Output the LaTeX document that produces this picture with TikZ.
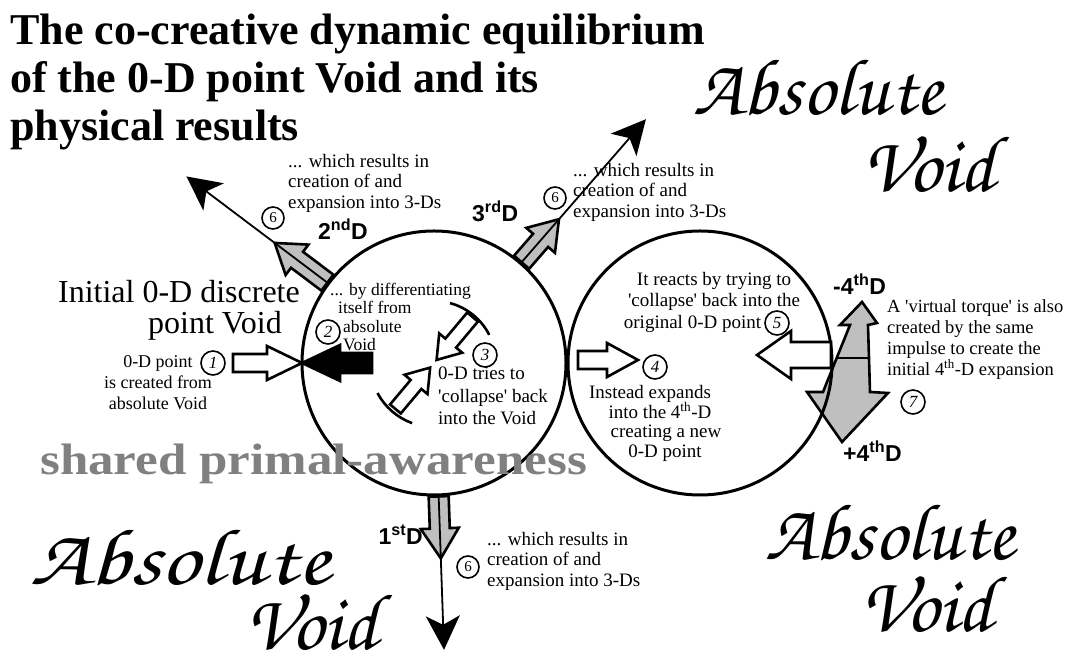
\documentclass[tikz,border=0pt]{standalone}
\usepackage{fontspec}
\usepackage{graphicx}
\setmainfont{Liberation Serif}
\newfontfamily\labelfont{Liberation Sans}
\newfontfamily\voidfont{TeX Gyre Chorus}
\usetikzlibrary{arrows.meta,calc,positioning}

% block arrow: [style]{start}{angle}{shaft half}{head half}{length}{head length}
\newcommand{\blockarrow}[7][hollow]{%
  \draw[#1,shift={#2},rotate=#3] (0,-#4) -- ({#6-#7},-#4) -- ({#6-#7},-#5) -- (#6,0)
    -- ({#6-#7},#5) -- ({#6-#7},#4) -- (0,#4) -- cycle;}

\tikzset{
  ring/.style={circle,draw,line width=3pt,minimum size=264pt,inner sep=0pt},
  numcirc/.style={circle,draw,line width=1.6pt,minimum size=24pt,inner sep=0pt,font=\fontsize{17}{17}\selectfont\itshape},
  sixcirc/.style={numcirc,minimum size=22pt,font=\fontsize{15}{15}\selectfont},
  note/.style={inner sep=0pt,font=\fontsize{19}{20.5}\selectfont},
  titletext/.style={inner sep=0pt,align=left,font=\bfseries\fontsize{44}{48}\selectfont},
  dimlabel/.style={inner sep=0pt,anchor=base west,font=\labelfont\bfseries\fontsize{23}{23}\selectfont},
  voidword/.style={inner sep=0pt,anchor=base west,font=\voidfont\fontsize{80}{80}\selectfont},
  hollow/.style={draw,line width=2.6pt,fill=white,line join=miter},
  filledarrow/.style={hollow,fill=black},
  dimarrow/.style={hollow,fill=black!25},
  ray/.style={line width=1.8pt,-{Stealth[length=34pt,width=34pt,inset=9pt]}},
}

\begin{document}
\begin{tikzpicture}[x=1pt,y=1pt]
\useasboundingbox (0,0) rectangle (1073,652);

% torque behind the right circle
\draw[dimarrow] (862,350) -- (877,329) -- (868,327) -- (870,260) -- (888,259) -- (842,210)
  -- (807,260) -- (823,260) -- (850,327) -- (840,327) -- cycle;
\draw[line width=2.6pt] (837,294) -- (869,294);

% the two points
\node[ring] (left) at (434,289) {};
\node[ring] (right) at (700,289) {};

% dimensions
\coordinate (end2) at ($(left.center)+(143:310)$);
\coordinate (end3) at ($(left.center)+(49:323)$);
\coordinate (end1) at ($(left.center)+(272:287)$);
\blockarrow[dimarrow]{(left.143)}{143}{10}{19}{66}{28}
\blockarrow[dimarrow]{(left.49)}{49}{10}{19}{57}{28}
\blockarrow[dimarrow]{(left.272)}{272}{10}{19}{62}{30}
\draw[ray] (left.143) -- (end2);
\draw[ray] (left.49) -- (end3);
\draw[ray] (left.272) -- (end1);

% creation and collapse
\blockarrow{(233,289)}{0}{9}{17}{69}{35}
\blockarrow[filledarrow]{(372,289)}{180}{10}{18}{70}{38}
\coordinate (up3) at ($(left.center)+(50:60)$);
\coordinate (lo3) at ($(left.center)+(230:60)$);
\blockarrow{(up3)}{230}{7}{15}{56}{22}
\blockarrow{(lo3)}{50}{7}{15}{54}{22}
\draw[line width=2.6pt] ($(left.center)+(27:62)$) arc[start angle=27,end angle=75,radius=62];
\draw[line width=2.6pt] ($(left.center)+(208:64)$) arc[start angle=208,end angle=250,radius=64];
\blockarrow{(578,292)}{0}{9}{17}{60}{31}
\blockarrow{(831,297)}{180}{13}{24}{74}{34}

% step numbers
\node[numcirc] (n1) at (213,289) {1};
\node[numcirc] (n2) at (328,320) {2};
\node[numcirc] (n3) at (485,297) {3};
\node[numcirc] (n4) at (655,285) {4};
\node[numcirc] (n5) at (777,329) {5};
\node[numcirc] (n7) at (913,250) {7};
\node[sixcirc] (six2) at (273,434) {6};
\node[sixcirc] (six3) at (555,454) {6};
\node[sixcirc] (six1) at (468,85) {6};

% texts
\node[titletext,anchor=north west] (title) at (10,638)
  {The co-creative dynamic equilibrium\\of the 0-D point Void and its\\physical results};
\node[inner sep=0pt,align=right,anchor=north east,font=\fontsize{32}{31}\selectfont] (initial) at (300,372)
  {Initial 0-D discrete\\point Void\hspace*{18pt}};
\node[note,align=center,anchor=north,font=\fontsize{18}{21}\selectfont] (created) at (158,297)
  {0-D point\\is created from\\absolute Void};
\node[note,align=left,anchor=north west,font=\fontsize{17.5}{18.3}\selectfont] (differ) at (330,369)
  {... by differentiating\\\hspace*{8pt}itself from\\\hspace*{13pt}absolute\\\hspace*{13pt}Void};
\node[note,align=left,anchor=north west,font=\fontsize{19}{22.5}\selectfont] (tries) at (438,285)
  {0-D tries to\\\textquotesingle collapse\textquotesingle{} back\\into the Void};
\node[note,align=center,anchor=north,font=\fontsize{19}{21.5}\selectfont] (reacts) at (714,380)
  {It reacts by trying to\\\textquotesingle collapse\textquotesingle{} back into the\\original 0-D point\hspace*{43pt}};
\node[note,align=center,anchor=north,font=\fontsize{19}{19.7}\selectfont] (instead) at (660,267)
  {Instead expands\hspace*{20pt}\\into the 4\textsuperscript{th}-D\hspace*{18pt}\\\hspace*{12pt}creating a new\\\hspace*{10pt}0-D point};
\node[note,align=left,anchor=north west,font=\fontsize{18.5}{21}\selectfont] (torque) at (887,353)
  {A \textquotesingle virtual torque\textquotesingle{} is also\\created by the same\\impulse to create the\\initial 4\textsuperscript{th}-D expansion};
\node[note,align=left,anchor=north west] (res2) at (288,498)
  {... which results in\\creation of and\\expansion into 3-Ds};
\node[note,align=left,anchor=north west] (res3) at (573,489)
  {... which results in\\creation of and\\expansion into 3-Ds};
\node[note,align=left,anchor=north west] (res1) at (487,120)
  {... which results in\\creation of and\\expansion into 3-Ds};

\node[dimlabel] (lab2) at (318,412) {2\textsuperscript{nd}D};
\node[dimlabel] (lab3) at (472,430) {3\textsuperscript{rd}D};
\node[dimlabel,anchor=base east] (lab1) at (423,107) {1\textsuperscript{st}D};
\node[dimlabel] (labm) at (833,357) {-4\textsuperscript{th}D};
\node[dimlabel] (labp) at (843,190) {+4\textsuperscript{th}D};

\node[anchor=base west,inner sep=0pt,text=black!50,font=\bfseries\fontsize{44}{44}\selectfont] (shared) at (40,177)
  {\scalebox{1.16}[1]{shared primal-awareness}};

\node[voidword] (absTR) at (693,537) {Absolute};
\node[voidword] (voidTR) at (862,460) {Void};
\node[voidword] (absBR) at (765,92) {Absolute};
\node[voidword] (voidBR) at (860,20) {Void};
\node[voidword] (absBL) at (30,67) {\scalebox{1.2}[1]{Absolute}};
\node[voidword] (voidBL) at (245,2) {Void};
\end{tikzpicture}
\end{document}
